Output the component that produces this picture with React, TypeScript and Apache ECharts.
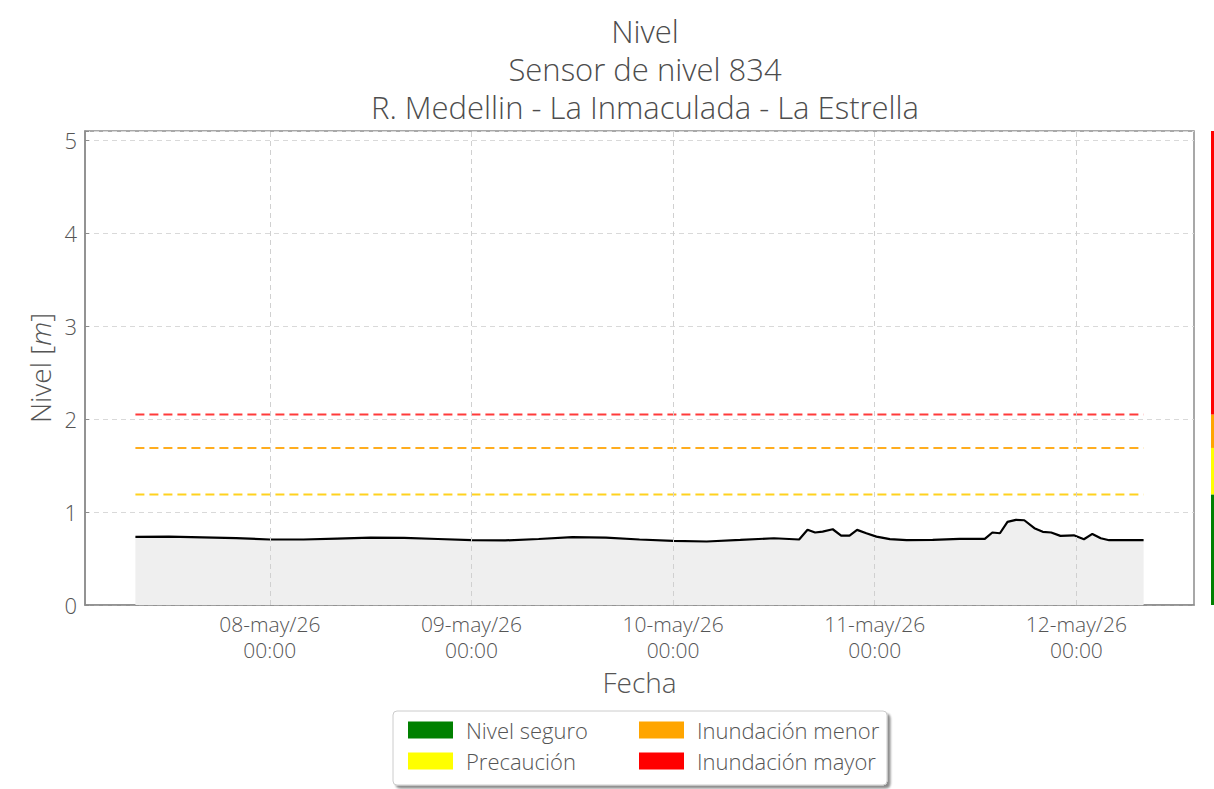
import React, { useEffect, useRef } from "react";
import * as echarts from "echarts";

// Time origin: 2026-05-07 00:00 (UTC); readings are hours after it
const ORIGIN = Date.UTC(2026, 4, 7, 0, 0);
const HOUR = 3600 * 1000;

const readingHours = [
  8, 12, 16, 20, 24, 28, 32, 36, 40, 44, 48, 52, 56, 60, 64, 68, 72, 76, 80, 84, 87,
  88, 88.9, 89.8, 91, 92, 93, 93.9, 95, 96.2, 97.8, 99.8, 102.9, 106.1, 109.1, 110,
  110.9, 111.8, 112.8, 113.8, 115, 116, 117, 118.1, 119.7, 120.9, 121.9, 122.9, 123.9,
  125.9, 128,
];
const levels = [
  0.733, 0.735, 0.728, 0.72, 0.705, 0.705, 0.715, 0.725, 0.722, 0.71, 0.697, 0.695,
  0.71, 0.73, 0.725, 0.705, 0.69, 0.683, 0.7, 0.718, 0.705, 0.81, 0.78, 0.79, 0.815,
  0.747, 0.747, 0.808, 0.772, 0.736, 0.708, 0.697, 0.7, 0.711, 0.711, 0.78, 0.772,
  0.894, 0.916, 0.912, 0.826, 0.787, 0.78, 0.744, 0.75, 0.708, 0.765, 0.718, 0.697,
  0.697, 0.697,
];

const tickHours = [24, 48, 72, 96, 120];
const monthNames = ["ene", "feb", "mar", "abr", "may", "jun", "jul", "ago", "sep", "oct", "nov", "dic"];

const thresholdNames = ["Precaución", "Inundación menor", "Inundación mayor"];
const thresholdValues = [1.19, 1.69, 2.05];
const thresholdLineColors = ["#ffd21f", "#ffad1f", "#ff3b3b"];

const bandNames = ["Nivel seguro", "Precaución", "Inundación menor", "Inundación mayor"];
const bandTops = [1.19, 1.69, 2.05, 5.1];
const bandColors = ["#008000", "#ffff00", "#ffa500", "#ff0000"];

const Y_MAX = 5.1;
const FONT = "Open Sans";
const W = 300;

export default function App() {
  const ref = useRef<HTMLDivElement>(null);
  useEffect(() => {
    if (!ref.current) return;
    const chart = echarts.init(ref.current, undefined, { renderer: "svg" });
    const times = readingHours.map((h) => ORIGIN + h * HOUR);
    const data = times.map((t, i) => [t, levels[i]]);
    const tStart = times[0];
    const tEnd = times[times.length - 1];
    const margin = (tEnd - tStart) * 0.05;
    const tickTimes = tickHours.map((h) => ORIGIN + h * HOUR);

    const fmt = (v: number) => {
      const d = new Date(v);
      const dd = String(d.getUTCDate()).padStart(2, "0");
      const yy = String(d.getUTCFullYear()).slice(2);
      const hh = String(d.getUTCHours()).padStart(2, "0");
      const mm = String(d.getUTCMinutes()).padStart(2, "0");
      return `${dd}-${monthNames[d.getUTCMonth()]}/${yy}\n${hh}:${mm}`;
    };

    const thresholdSeries = thresholdNames.map((n, i) => ({
      name: n + " umbral",
      type: "line",
      xAxisIndex: 0,
      yAxisIndex: 0,
      data: [
        [tStart, thresholdValues[i]],
        [tEnd, thresholdValues[i]],
      ],
      symbol: "none",
      silent: true,
      z: 3,
      lineStyle: { color: thresholdLineColors[i], width: 2, type: [9, 5] },
    }));

    const bandSeries = bandNames.map((n, i) => ({
      name: n,
      type: "bar",
      xAxisIndex: 1,
      yAxisIndex: 1,
      stack: "bands",
      barWidth: "100%",
      silent: true,
      itemStyle: { color: bandColors[i] },
      data: [i === 0 ? bandTops[0] : +(bandTops[i] - bandTops[i - 1]).toFixed(3)],
    }));

    const legendText = { fontFamily: FONT, fontWeight: W, fontSize: 22, color: "#555", padding: [0, 0, 0, 8] };

    chart.setOption({
      animation: false,
      backgroundColor: "#ffffff",
      textStyle: { fontFamily: FONT, fontWeight: W },
      title: {
        text: "Nivel\nSensor de nivel 834\nR. Medellin - La Inmaculada - La Estrella",
        left: 640,
        top: 7,
        textAlign: "center",
        textStyle: {
          fontFamily: FONT,
          fontSize: 31,
          fontWeight: W,
          color: "#4d4d4d",
          lineHeight: 38,
        },
      },
      grid: [
        {
          left: 85,
          top: 131,
          width: 1109,
          height: 474,
          show: true,
          borderColor: "#8c8c8c",
          borderWidth: 1.5,
          backgroundColor: "transparent",
        },
        { left: 1211, top: 131, width: 3, height: 474 },
      ],
      legend: [
        {
          data: ["Nivel seguro", "Precaución"],
          orient: "vertical",
          left: 403,
          top: 714,
          itemWidth: 45,
          itemHeight: 17,
          itemGap: 9,
          icon: "rect",
          selectedMode: false,
          z: 10,
          textStyle: legendText,
        },
        {
          data: ["Inundación menor", "Inundación mayor"],
          orient: "vertical",
          left: 634,
          top: 714,
          itemWidth: 45,
          itemHeight: 17,
          itemGap: 9,
          icon: "rect",
          selectedMode: false,
          z: 10,
          textStyle: legendText,
        },
      ],
      graphic: [
        {
          type: "rect",
          z: 1,
          shape: { x: 393, y: 711, width: 494, height: 74, r: 4 },
          style: {
            fill: "#ffffff",
            stroke: "#cccccc",
            lineWidth: 1,
            shadowColor: "rgba(0,0,0,0.45)",
            shadowBlur: 2,
            shadowOffsetX: 3,
            shadowOffsetY: 3,
          },
        },
      ],
      xAxis: [
        {
          type: "value",
          gridIndex: 0,
          min: tStart - margin,
          max: tEnd + margin,
          name: "Fecha",
          nameLocation: "middle",
          nameGap: 62,
          nameTextStyle: { fontFamily: FONT, fontWeight: W, fontSize: 28, color: "#555" },
          axisLine: { show: true, lineStyle: { color: "#8c8c8c", width: 1.5 } },
          axisTick: {
            show: true,
            inside: true,
            length: 5,
            customValues: tickTimes,
            lineStyle: { color: "#8c8c8c" },
          },
          axisLabel: {
            customValues: tickTimes,
            formatter: (v: number) => fmt(v),
            fontFamily: FONT,
            fontWeight: W,
            fontSize: 21,
            color: "#555",
            lineHeight: 26,
            margin: 6,
          },
          splitLine: { show: false },
        },
        {
          type: "category",
          gridIndex: 1,
          data: ["b"],
          show: false,
        },
      ],
      yAxis: [
        {
          type: "value",
          gridIndex: 0,
          min: 0,
          max: Y_MAX,
          interval: 1,
          name: "Nivel [{i|m}]",
          nameLocation: "middle",
          nameRotate: 90,
          nameGap: 28,
          nameTextStyle: {
            fontFamily: FONT,
            fontWeight: W,
            fontSize: 28,
            color: "#555",
            rich: { i: { fontFamily: FONT, fontWeight: W, fontSize: 28, color: "#555", fontStyle: "italic" } },
          },
          axisLine: { show: true, lineStyle: { color: "#8c8c8c", width: 1.5 } },
          axisTick: { show: true, inside: true, length: 4, lineStyle: { color: "#8c8c8c" } },
          axisLabel: {
            formatter: (v: number) => (Number.isInteger(v) ? String(v) : ""),
            fontFamily: FONT,
            fontWeight: W,
            fontSize: 22,
            color: "#555",
            margin: 8,
          },
          splitLine: { show: true, lineStyle: { color: "#d9d9d9", type: [5, 4], width: 1 } },
        },
        {
          type: "value",
          gridIndex: 1,
          min: 0,
          max: Y_MAX,
          show: false,
        },
      ],
      series: [
        {
          name: "Nivel",
          type: "line",
          xAxisIndex: 0,
          yAxisIndex: 0,
          data,
          symbol: "none",
          smooth: false,
          z: 2,
          lineStyle: { color: "#000000", width: 2.2 },
          areaStyle: { color: "#efefef", opacity: 1 },
          markLine: {
            silent: true,
            symbol: "none",
            label: { show: false },
            lineStyle: { color: "#d0d0d0", type: [5, 4], width: 1 },
            data: tickTimes.map((t) => ({ xAxis: t })),
          },
        },
        ...thresholdSeries,
        ...bandSeries,
      ],
    });
    return () => chart.dispose();
  }, []);
  return (
    <div
      ref={ref}
      style={{ position: "fixed", left: 0, top: 0, width: 1214, height: 789 }}
    />
  );
}
